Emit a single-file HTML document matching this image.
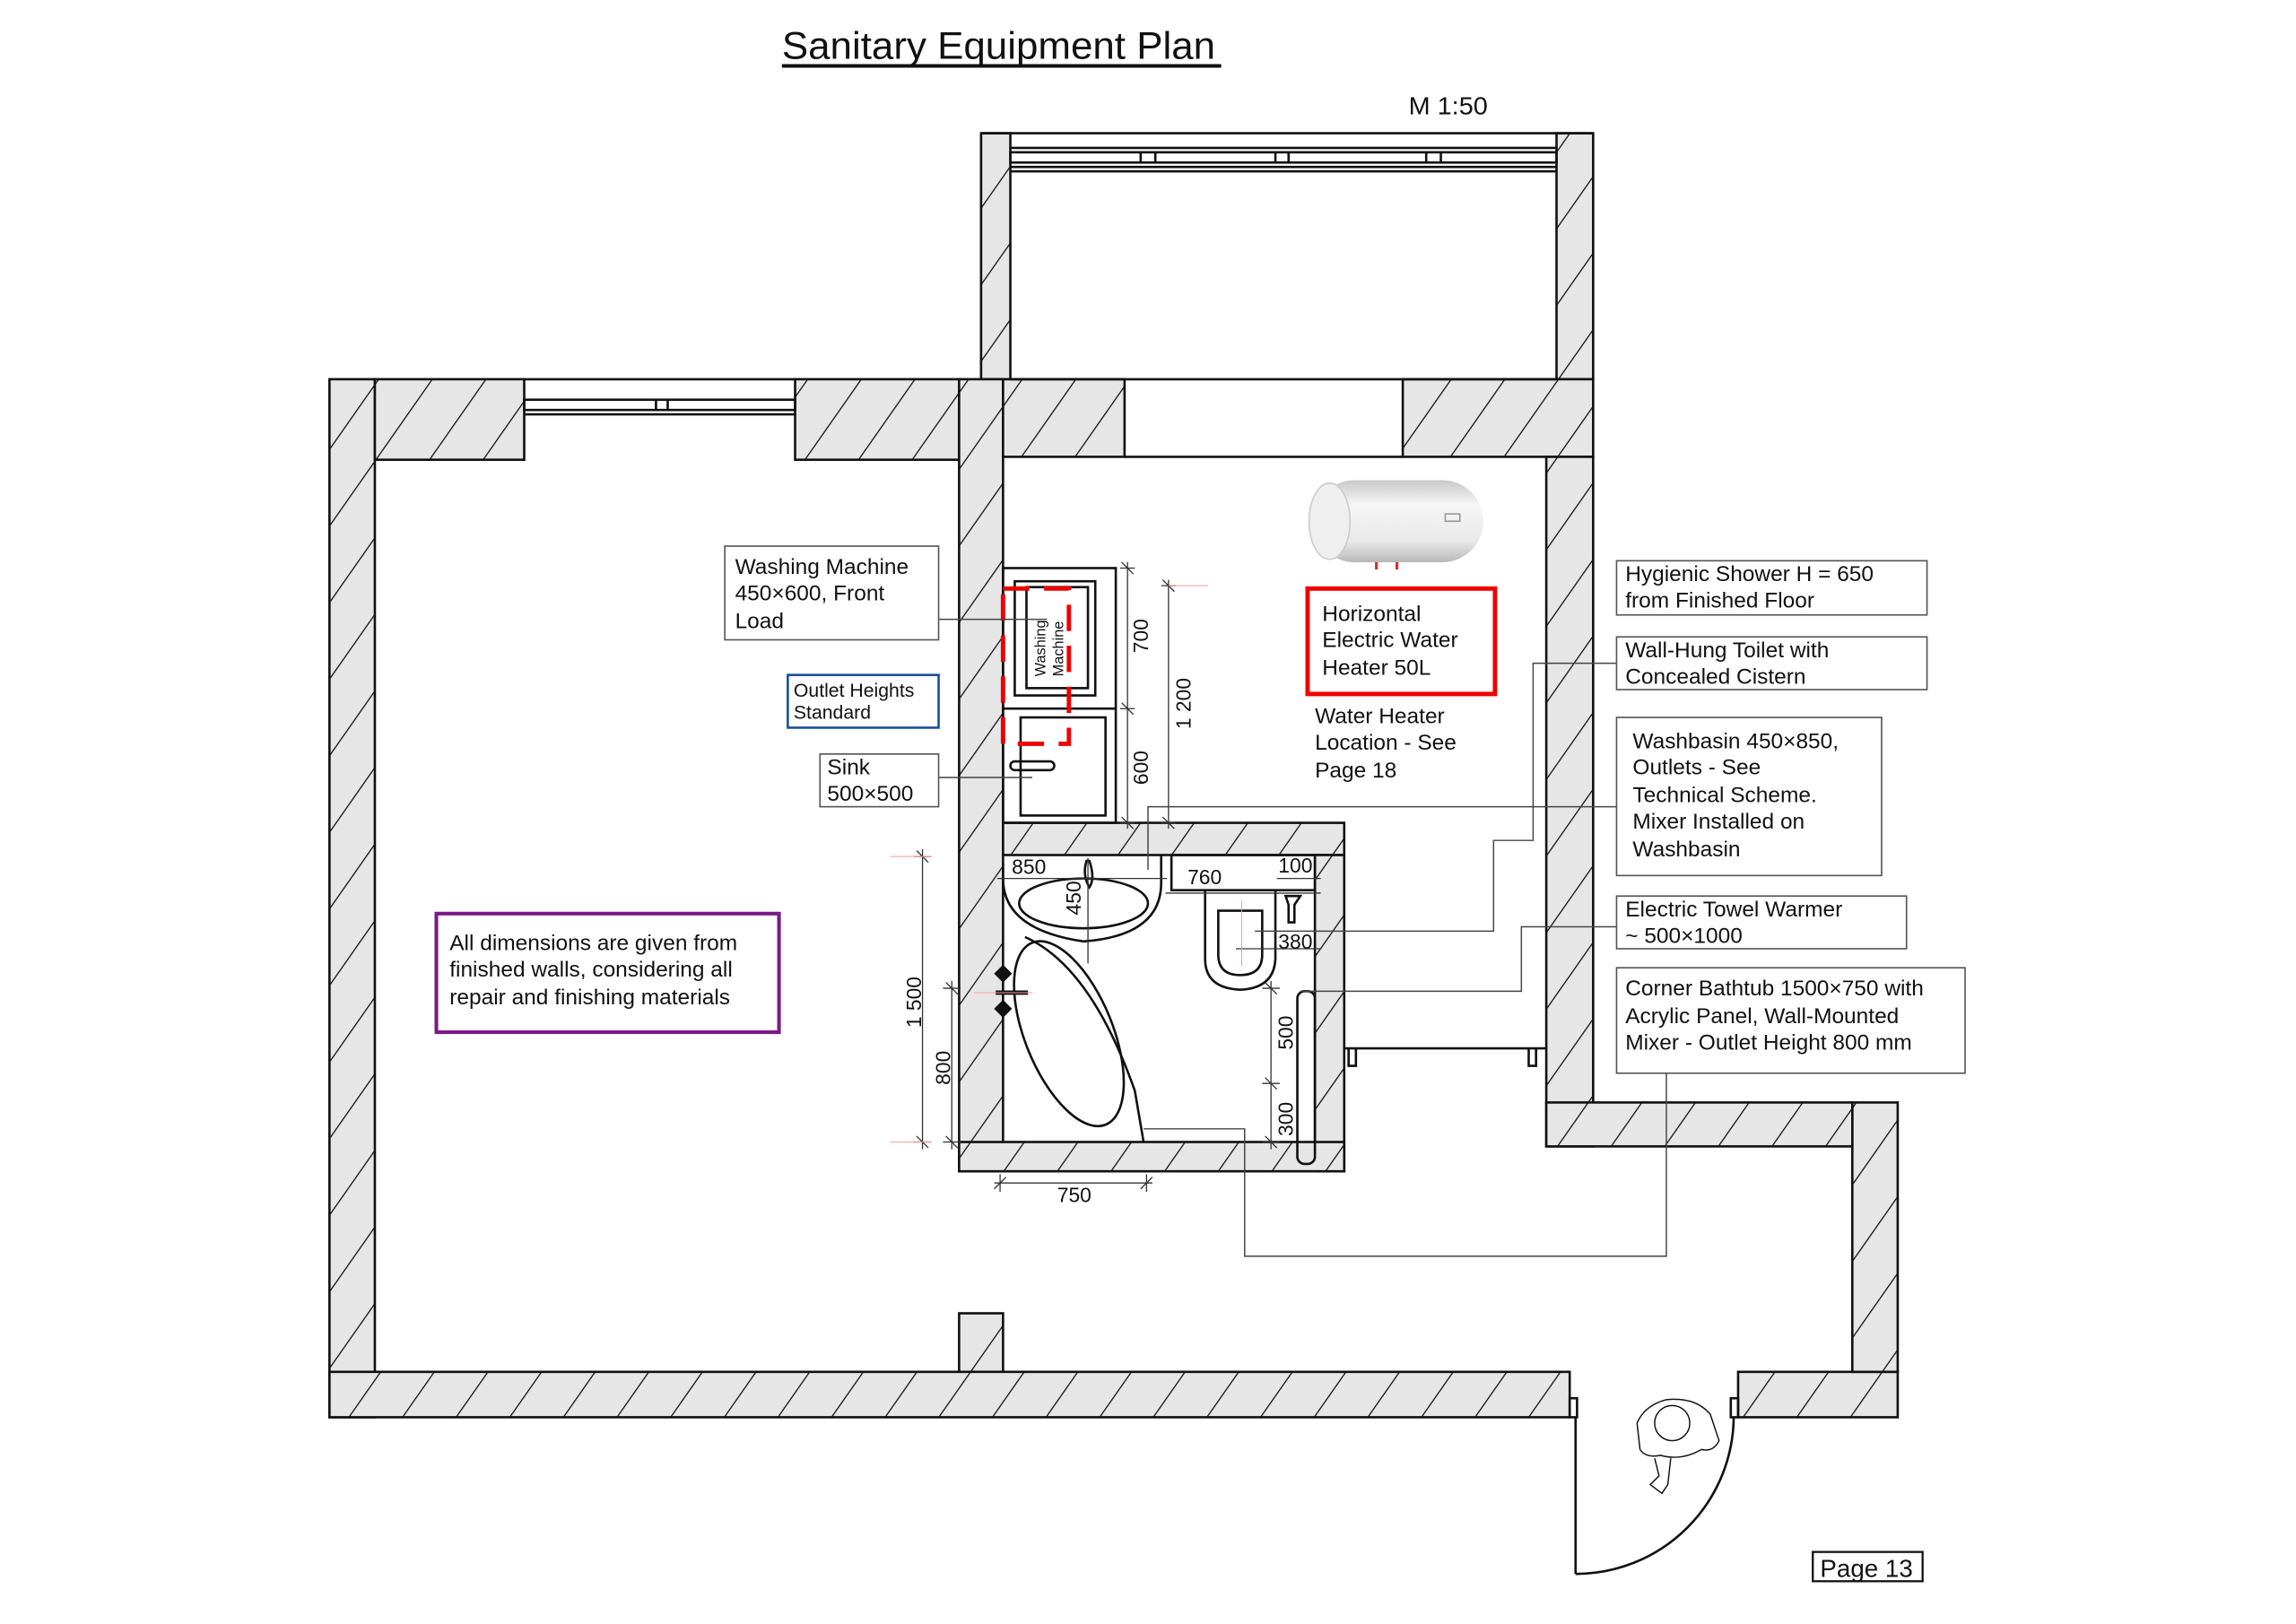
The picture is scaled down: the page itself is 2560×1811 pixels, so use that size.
<!DOCTYPE html>
<html><head><meta charset="utf-8"><style>
html,body{margin:0;padding:0;background:#fff;}
svg{display:block;}
text{font-family:"Liberation Sans",sans-serif;fill:#111;}
.l{font-size:15px;}
.d{font-size:14px;}
</style></head><body>
<svg width="2560" height="1811" viewBox="0 0 1568 1109.2" xmlns="http://www.w3.org/2000/svg">
<defs>
<pattern id="h" width="30" height="30" patternUnits="userSpaceOnUse" patternTransform="rotate(35)">
<rect width="30" height="30" fill="#e6e6e6"/>
<line x1="0" y1="0" x2="0" y2="30" stroke="#111" stroke-width="1.6"/>
</pattern>
<linearGradient id="cyl" x1="0" y1="0" x2="0" y2="1">
<stop offset="0" stop-color="#c8c8c8"/><stop offset="0.3" stop-color="#f6f6f6"/><stop offset="0.75" stop-color="#e8e8e8"/><stop offset="1" stop-color="#b8b8b8"/>
</linearGradient>
</defs>
<rect width="1568" height="1110" fill="#fff"/>

<!-- title -->
<text x="534" y="40" textLength="296" lengthAdjust="spacingAndGlyphs" style="font-size:26px">Sanitary Equipment Plan</text>
<line x1="534" y1="45" x2="834" y2="45" stroke="#111" stroke-width="2.5"/>
<text x="962" y="78" textLength="54" lengthAdjust="spacingAndGlyphs" style="font-size:17px">M 1:50</text>

<g stroke="#111" stroke-width="1.6" fill="url(#h)">
<rect x="670" y="91" width="20" height="168"/>
<rect x="1063" y="91" width="25" height="168"/>
<rect x="225" y="259" width="31" height="709"/>
<rect x="256" y="259" width="102" height="55"/>
<rect x="543" y="259" width="112" height="55"/>
<rect x="655" y="259" width="30" height="541"/>
<rect x="685" y="259" width="83" height="53"/>
<rect x="958" y="259" width="130" height="53"/>
<rect x="1056" y="312" width="32" height="471"/>
<rect x="685" y="562" width="233" height="22"/>
<rect x="898" y="584" width="20" height="216"/>
<rect x="655" y="780" width="263" height="20"/>
<rect x="655" y="897" width="30" height="40"/>
<rect x="225" y="937" width="847" height="31"/>
<rect x="1187" y="937" width="109" height="31"/>
<rect x="1265" y="753" width="31" height="184"/>
<rect x="1056" y="753" width="209" height="30"/>
</g>
<g stroke="#111" stroke-width="1.6" fill="none">
<line x1="670" y1="91" x2="1088" y2="91"/>
<line x1="690" y1="101" x2="1063" y2="101"/>
<rect x="690" y="104" width="373" height="7"/>
<line x1="690" y1="114" x2="1063" y2="114"/>
<line x1="690" y1="117" x2="1063" y2="117"/>
<line x1="779" y1="104" x2="779" y2="111"/><line x1="789" y1="104" x2="789" y2="111"/>
<line x1="871" y1="104" x2="871" y2="111"/><line x1="880" y1="104" x2="880" y2="111"/>
<line x1="974" y1="104" x2="974" y2="111"/><line x1="984" y1="104" x2="984" y2="111"/>
<line x1="690" y1="259" x2="1063" y2="259"/>
<line x1="358" y1="259" x2="543" y2="259"/>
<rect x="358" y="273" width="185" height="7"/>
<line x1="358" y1="283" x2="543" y2="283"/>
<line x1="448" y1="273" x2="448" y2="280"/><line x1="456" y1="273" x2="456" y2="280"/>
<line x1="768" y1="312" x2="958" y2="312"/>
<line x1="918" y1="716" x2="1056" y2="716"/>
<path d="M921 716 v12 h5 v-12 M1044 716 v12 h5 v-12"/>
<rect x="1072" y="955" width="5" height="13"/>
<rect x="1182" y="955" width="5" height="13"/>
<line x1="1076" y1="968" x2="1076" y2="1075"/>
<path d="M1076 1075 A108 108 0 0 0 1184 968"/>
<g stroke-width="0.9">
<circle cx="1142" cy="972" r="12"/>
<path d="M1118 972 q5 -12 20 -16 q20 -2 30 10 l6 18 q-4 8 -12 6 q-14 8 -28 4 q-10 2 -14 -4 z"/>
<path d="M1130 996 l3 12 l-6 6 l8 6 l4 -6 l2 -18"/>
</g>
<rect x="685" y="388" width="77" height="174"/>
<line x1="685" y1="484" x2="762" y2="484"/>
<rect x="693" y="397" width="55" height="78"/>
<rect x="701" y="401" width="42" height="69"/>
<rect x="697" y="490" width="58" height="67"/>
<rect x="690" y="520" width="30" height="6" rx="3"/>
<path d="M685 590 v10 q0 35 55 43 q53 -4 53 -40 v-19"/>
<ellipse cx="740" cy="617" rx="44" ry="17"/>
<path d="M742 588 q-3 10 2 18 q4 -6 0 -18 z"/>
<rect x="800" y="584" width="98" height="24"/>
<path d="M823 608 v47 q0 20 24 21 q23 -1 24 -21 v-47"/>
<path d="M832 622 h30 v30 q0 14 -15 14 q-15 0 -15 -14 z"/>
<path d="M878 612 h10 l-4 6 v12 h-4 v-12 z"/>
<ellipse cx="730" cy="706" rx="30" ry="67" transform="rotate(-22 730 706)"/>
<path d="M700 640 q45 20 75 105 l6 35"/>
<path d="M680 678 h22" stroke-width="3"/>
<path d="M685 660 l5 5 -5 5 -5 -5z M685 684 l5 5 -5 5 -5 -5z" fill="#111"/>
<rect x="886" y="677" width="12" height="118" rx="5"/>
</g>
<rect x="685" y="402" width="45" height="106" fill="none" stroke="#e00" stroke-width="3" stroke-dasharray="18 10"/>
<text transform="translate(714 462) rotate(-90)" style="font-size:10px">Washing</text>
<text transform="translate(726 462) rotate(-90)" style="font-size:10px">Machine</text>

<rect x="897" y="328" width="116" height="56" rx="28" fill="url(#cyl)"/>
<ellipse cx="908" cy="356" rx="14" ry="26" fill="#efefef" stroke="#ccc"/>
<rect x="987" y="351" width="10" height="5" fill="none" stroke="#999"/>
<line x1="940" y1="384" x2="940" y2="389" stroke="#c33" stroke-width="2"/>
<line x1="954" y1="384" x2="954" y2="389" stroke="#c33" stroke-width="2"/>

<g stroke="#333" stroke-width="0.8" fill="none">
<line x1="770" y1="384" x2="770" y2="566"/>
<path d="M765 388 h10 M765 484 h10 M765 562 h10 M766 384 l8 8 M766 480 l8 8 M766 558 l8 8"/>
<line x1="798" y1="396" x2="798" y2="566"/>
<path d="M793 400 h10 M793 562 h10 M794 396 l8 8 M794 558 l8 8"/>
<line x1="630" y1="580" x2="630" y2="785"/>
<path d="M624 585 h12 M624 780 h12 M626 581 l8 8 M626 776 l8 8"/>
<line x1="650" y1="670" x2="650" y2="785"/>
<path d="M644 675 h12 M644 780 h12 M646 671 l8 8 M646 776 l8 8"/>
<line x1="679" y1="808" x2="787" y2="808"/>
<path d="M683 802 v12 M783 802 v12 M679 812 l8 -8 M779 812 l8 -8"/>
<line x1="681" y1="600" x2="797" y2="600"/>
<line x1="796" y1="610" x2="902" y2="610"/>
<line x1="872" y1="600" x2="902" y2="600"/>
<line x1="743" y1="586" x2="743" y2="658"/>
<line x1="844" y1="648" x2="902" y2="648"/>
<line x1="868" y1="670" x2="868" y2="785"/>
<path d="M862 675 h12 M862 740 h12 M862 780 h12 M864 671 l8 8 M864 736 l8 8 M864 776 l8 8"/>
</g>
<g stroke="#f99" stroke-width="0.6">
<line x1="798" y1="400" x2="825" y2="400"/>
<line x1="608" y1="585" x2="636" y2="585"/>
<line x1="608" y1="780" x2="636" y2="780"/>
<line x1="848" y1="615" x2="848" y2="660"/>
<line x1="665" y1="678" x2="705" y2="678"/>
</g>
<g class="d">
<text transform="translate(784 446) rotate(-90)">700</text>
<text transform="translate(784 536) rotate(-90)">600</text>
<text transform="translate(813 498) rotate(-90)">1 200</text>
<text transform="translate(629 702) rotate(-90)">1 500</text>
<text transform="translate(649 741) rotate(-90)">800</text>
<text transform="translate(738 625) rotate(-90)">450</text>
<text transform="translate(883 717) rotate(-90)">500</text>
<text transform="translate(883 776) rotate(-90)">300</text>
<text x="722" y="821">750</text>
<text x="691" y="597">850</text>
<text x="811" y="604">760</text>
<text x="873" y="596">100</text>
<text x="873" y="648">380</text>
</g>

<g stroke="#444" stroke-width="0.9" fill="none">
<line x1="641" y1="423" x2="715" y2="423"/>
<line x1="641" y1="531" x2="705" y2="531"/>
<polyline points="1104,453 1047,453 1047,574 1020,574 1020,636 857,636"/>
<polyline points="1104,551 784,551 784,594"/>
<polyline points="1104,633 1039,633 1039,677 888,677"/>
<polyline points="1138,733 1138,858 850,858 850,771 781,771"/>
</g>

<g fill="#fff" stroke="#555" stroke-width="1">
<rect x="495" y="373" width="146" height="64"/>
<rect x="560" y="515" width="81" height="36"/>
<rect x="1104" y="383" width="212" height="37"/>
<rect x="1104" y="435" width="212" height="36"/>
<rect x="1104" y="490" width="181" height="108"/>
<rect x="1104" y="612" width="198" height="36"/>
<rect x="1104" y="661" width="238" height="72"/>
</g>
<rect x="538" y="461" width="103" height="36" fill="#fff" stroke="#1a4f9c" stroke-width="1.6"/>
<rect x="298" y="624" width="234" height="81" fill="#fff" stroke="#7a1a86" stroke-width="2.5"/>
<rect x="893" y="402" width="128" height="72" fill="#fff" stroke="#e00" stroke-width="3"/>
<rect x="1238" y="1060" width="75" height="20" fill="#fff" stroke="#111" stroke-width="1.4"/>

<g class="l">
<text x="502" y="392">Washing Machine</text>
<text x="502" y="410">450×600, Front</text>
<text x="502" y="429">Load</text>
<text x="542" y="476" style="font-size:13px">Outlet Heights</text>
<text x="542" y="491" style="font-size:13px">Standard</text>
<text x="565" y="529">Sink</text>
<text x="565" y="547">500×500</text>
<text x="307" y="649">All dimensions are given from</text>
<text x="307" y="667">finished walls, considering all</text>
<text x="307" y="686">repair and finishing materials</text>
<text x="903" y="424">Horizontal</text>
<text x="903" y="442">Electric Water</text>
<text x="903" y="461">Heater 50L</text>
<text x="898" y="494">Water Heater</text>
<text x="898" y="512">Location - See</text>
<text x="898" y="531">Page 18</text>
<text x="1110" y="397">Hygienic Shower H = 650</text>
<text x="1110" y="415">from Finished Floor</text>
<text x="1110" y="449">Wall-Hung Toilet with</text>
<text x="1110" y="467">Concealed Cistern</text>
<text x="1115" y="511">Washbasin 450×850,</text>
<text x="1115" y="529">Outlets - See</text>
<text x="1115" y="548">Technical Scheme.</text>
<text x="1115" y="566">Mixer Installed on</text>
<text x="1115" y="585">Washbasin</text>
<text x="1110" y="626">Electric Towel Warmer</text>
<text x="1110" y="644">~ 500×1000</text>
<text x="1110" y="680">Corner Bathtub 1500×750 with</text>
<text x="1110" y="699">Acrylic Panel, Wall-Mounted</text>
<text x="1110" y="717">Mixer - Outlet Height 800 mm</text>
<text x="1243" y="1077" style="font-size:17px">Page 13</text>
</g>
</svg>
</body></html>
